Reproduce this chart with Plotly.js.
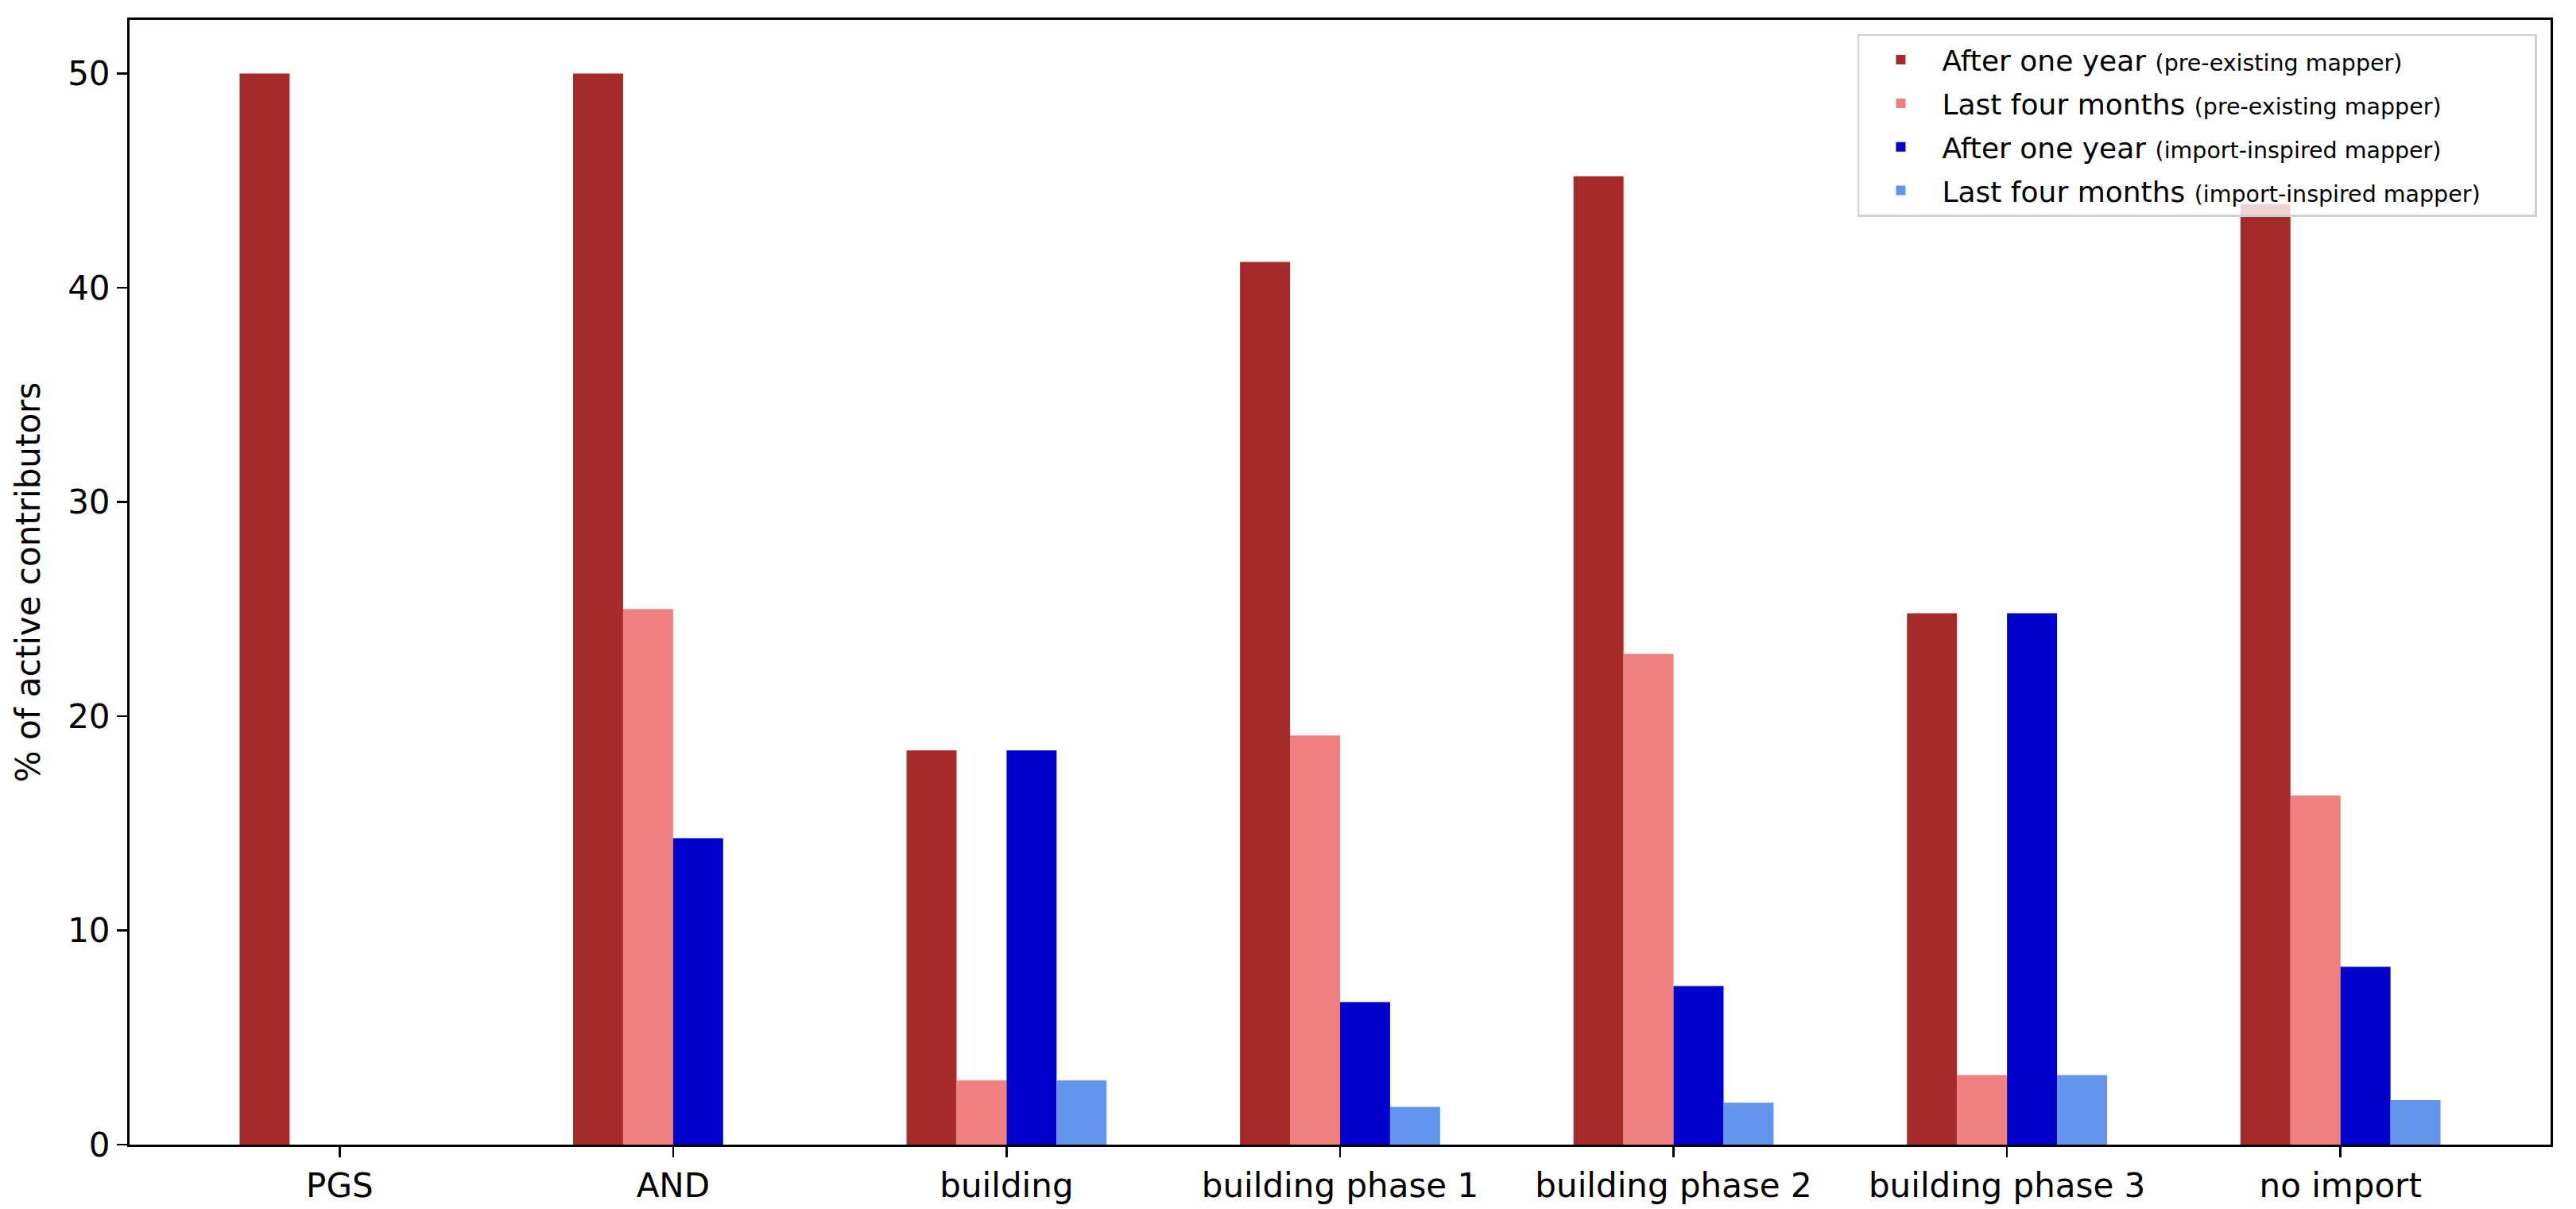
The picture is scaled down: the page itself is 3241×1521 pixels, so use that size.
<!DOCTYPE html>
<html>
<head>
<meta charset="utf-8">
<script src="https://cdn.plot.ly/plotly-3.0.1.min.js"></script>
<style>html,body{margin:0;padding:0;background:#fff;}#chart{width:3241px;height:1521px;}</style>
</head>
<body>
<div id="chart"></div>
<script>
// ---- data ----
const categories = ["PGS", "AND", "building", "building phase 1", "building phase 2", "building phase 3", "no import"];
const afterYearPre   = [50.0, 50.0, 18.4, 41.2, 45.2, 24.8, 43.9];
const lastFourPre    = [0,    25.0, 3.0,  19.1, 22.9, 3.25, 16.3];
const afterYearImp   = [0,    14.3, 18.4, 6.65, 7.4,  24.8, 8.3];
const lastFourImp    = [0,    0,    3.0,  1.76, 1.96, 3.25, 2.08];
const seriesMain = ["After one year", "Last four months", "After one year", "Last four months"];
const seriesSub  = ["(pre-existing mapper)", "(pre-existing mapper)", "(import-inspired mapper)", "(import-inspired mapper)"];
const seriesColors = ["#A52A2A", "#F08080", "#0000CD", "#6495ED"];
const yTicks = [0, 10, 20, 30, 40, 50];
const yTitle = "% of active contributors";

const FONT = "DejaVu Sans";
const PAD = "\u00A0\u00A0\u00A0\u00A0\u00A0\u00A0\u00A0";
const values = [afterYearPre, lastFourPre, afterYearImp, lastFourImp];
const traces = values.map((v, i) => ({
  type: "bar",
  x: categories,
  y: v,
  name: seriesMain[i] + ' <span style="font-size:28.5px">' + seriesSub[i] + PAD + '</span>',
  legendgroup: "g" + i,
  marker: {color: seriesColors[i], line: {width: 0}},
  hoverinfo: "skip"
}));

const layout = {
  width: 3241,
  height: 1521,
  paper_bgcolor: "#ffffff",
  plot_bgcolor: "#ffffff",
  margin: {l: 163, r: 32, t: 25, b: 81},
  barmode: "group",
  bargap: 0.4,
  bargroupgap: 0,
  font: {family: FONT, color: "#000000", size: 42},
  showlegend: true,
  legend: {
    x: 0.9944, xanchor: "right",
    y: 0.9875, yanchor: "top",
    bgcolor: "rgba(255,255,255,0.8)",
    bordercolor: "#d0d0d0",
    borderwidth: 2.5,
    font: {family: FONT, size: 36, color: "#000000"},
    itemwidth: 94,
    tracegroupgap: 5,
    traceorder: "grouped"
  },
  xaxis: {
    type: "category",
    range: [-0.63, 6.63],
    showline: true, linecolor: "#000000", linewidth: 3, mirror: true,
    ticks: "outside", ticklen: 13, tickwidth: 2.5, tickcolor: "#000000",
    showgrid: false, zeroline: false,
    tickfont: {family: FONT, size: 42, color: "#000000"}
  },
  yaxis: {
    range: [0, 52.5],
    tickvals: yTicks,
    ticktext: yTicks.map(String),
    showline: true, linecolor: "#000000", linewidth: 3, mirror: true,
    ticks: "outside", ticklen: 13, tickwidth: 2.5, tickcolor: "#000000",
    showgrid: false, zeroline: false,
    tickfont: {family: FONT, size: 42, color: "#000000"},
    title: {text: yTitle, font: {family: FONT, size: 42, color: "#000000"}, standoff: 22}
  }
};

Plotly.newPlot("chart", traces, layout, {staticPlot: true, displayModeBar: false});
</script>
</body>
</html>
